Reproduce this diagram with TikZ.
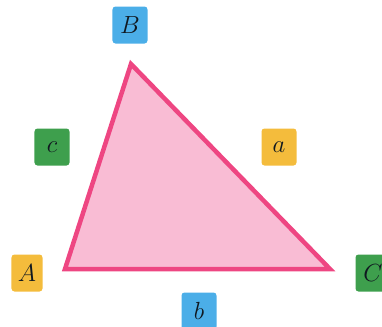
\documentclass[tikz,border=0pt]{standalone}
\usepackage{tikz}
\definecolor{lblblue}{HTML}{4BAEE8}
\definecolor{lblgreen}{HTML}{3E9F4D}
\definecolor{lblyellow}{HTML}{F4BC3C}
\definecolor{trifill}{HTML}{F9BCD4}
\definecolor{tristroke}{HTML}{EE4682}
\definecolor{txt}{HTML}{101820}
\tikzset{
  lbl/.style={rounded corners=3bp, minimum width=35bp, minimum height=37bp, inner sep=0pt,
    text=txt, font=\fontsize{27}{31}\selectfont},
  tri/.style={fill=trifill, draw=tristroke, line width=4.5bp, line join=miter}
}
\begin{document}
\begin{tikzpicture}[x=1bp,y=-1bp]
\useasboundingbox (0,0) rectangle (382,327);
\coordinate (vA) at (65,269);
\coordinate (vB) at (131,64);
\coordinate (vC) at (330,269);
\draw[tri] (vA) -- (vB) -- (vC) -- cycle;
\node[lbl, fill=lblblue] (lB) at (130,25) {$B$};
\node[lbl, fill=lblgreen] (lc) at (52,147) {$c$};
\node[lbl, fill=lblyellow] (la) at (279,147) {$a$};
\node[lbl, fill=lblyellow, minimum width=31bp] (lA) at (27,273) {$A$};
\node[lbl, fill=lblgreen] (lC) at (373,273) {$C$};
\node[lbl, fill=lblblue] (lb) at (199,311) {$b$};
\end{tikzpicture}
\end{document}
